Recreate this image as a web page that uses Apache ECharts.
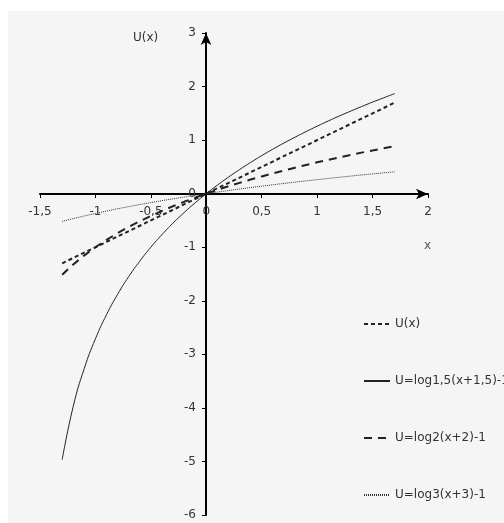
<!DOCTYPE html>
<html>
<head>
<meta charset="utf-8">
<script src="https://cdn.jsdelivr.net/npm/echarts@6/dist/echarts.min.js"></script>
<style>
  html, body { margin: 0; padding: 0; background: #ffffff; }
  #chart { width: 504px; height: 523px; }
</style>
</head>
<body>
<div id="chart"></div>
<script>
// Sample abscissas shared by all curves
const xs = [-1.3, -1.2, -1.1, -1.0, -0.9, -0.8, -0.7, -0.6, -0.5, -0.4, -0.3, -0.2, -0.1, 0.0,
            0.1, 0.2, 0.3, 0.4, 0.5, 0.6, 0.7, 0.8, 0.9, 1.0, 1.1, 1.2, 1.3, 1.4, 1.5, 1.6, 1.7];

// U(x) straight line
const uLineX = [-1.3, 1.7];
const uLineY = [-1.3, 1.7];

// U = log1,5(x+1,5) - 1
const uLog15 = [-4.969, -3.969, -3.260, -2.710, -2.260, -1.880, -1.550, -1.260, -1.000, -0.765,
                -0.550, -0.353, -0.170, 0.000, 0.159, 0.309, 0.450, 0.583, 0.710, 0.830,
                0.945, 1.054, 1.159, 1.260, 1.357, 1.450, 1.539, 1.626, 1.710, 1.790, 1.869];

// U = log2(x+2) - 1
const uLog2 = [-1.515, -1.322, -1.152, -1.000, -0.862, -0.737, -0.621, -0.515, -0.415, -0.322,
               -0.234, -0.152, -0.074, 0.000, 0.070, 0.138, 0.202, 0.263, 0.322, 0.379,
               0.433, 0.485, 0.536, 0.585, 0.632, 0.678, 0.722, 0.766, 0.807, 0.848, 0.888];

// U = log3(x+3) - 1
const uLog3 = [-0.517, -0.465, -0.416, -0.369, -0.325, -0.282, -0.242, -0.203, -0.166, -0.130,
               -0.096, -0.063, -0.031, 0.000, 0.030, 0.059, 0.087, 0.114, 0.140, 0.166,
               0.191, 0.215, 0.239, 0.262, 0.284, 0.306, 0.328, 0.349, 0.369, 0.389, 0.409];

const seriesNames = ['U(x)', 'U=log1,5(x+1,5)-1', 'U=log2(x+2)-1', 'U=log3(x+3)-1'];

const pairs = (xArr, yArr) => xArr.map((x, i) => [x, yArr[i]]);

const chart = echarts.init(document.getElementById('chart'), null, { renderer: 'canvas' });
const font = 'DejaVu Sans, Verdana, sans-serif';
const textColor = '#333333';

// Plot box
const gridLeft = 40, gridRight = 76, gridTop = 33, gridBottom = 8;
const xMin = -1.5, xMax = 2, yMin = -6, yMax = 3;
const plotW = 504 - gridLeft - gridRight;
const plotH = 523 - gridTop - gridBottom;
// Shift the axes so they cross at the origin (labels and ticks travel with them)
const xAxisOffset = -Math.round(plotH * (0 - yMin) / (yMax - yMin));
const yAxisOffset = -Math.round(plotW * (0 - xMin) / (xMax - xMin));

chart.setOption({
  animation: false,
  backgroundColor: '#ffffff',
  graphic: [
    { type: 'rect', z: -10, silent: true,
      shape: { x: 8, y: 11, width: 496, height: 512 },
      style: { fill: '#f5f5f5' } },
    { type: 'text', left: 133, top: 32,
      style: { text: 'U(x)', font: '12px ' + font, fill: textColor } },
    { type: 'text', left: 424, top: 240,
      style: { text: 'x', font: '12px ' + font, fill: '#4a5a4a' } }
  ],
  grid: { left: gridLeft, right: gridRight, top: gridTop, bottom: gridBottom, containLabel: false },
  legend: {
    orient: 'vertical',
    left: 358,
    top: 313,
    itemGap: 45,
    itemWidth: 26,
    itemHeight: 14,
    data: seriesNames,
    itemStyle: { opacity: 0 },
    textStyle: { fontFamily: font, fontSize: 12, color: textColor }
  },
  xAxis: {
    type: 'value', min: xMin, max: xMax, interval: 0.5,
    position: 'bottom', offset: xAxisOffset,
    axisLine: { onZero: false, symbol: ['none', 'arrow'], symbolSize: [8, 12],
                lineStyle: { color: '#000', width: 2 } },
    axisTick: { show: true, inside: false, length: 4, lineStyle: { color: '#000', width: 1 } },
    axisLabel: { fontFamily: font, fontSize: 12, color: textColor, margin: 12,
                 formatter: v => String(v).replace('.', ',') },
    splitLine: { show: false }
  },
  yAxis: {
    type: 'value', min: yMin, max: yMax, interval: 1,
    position: 'left', offset: yAxisOffset,
    axisLine: { onZero: false, symbol: ['none', 'arrow'], symbolSize: [8, 12],
                lineStyle: { color: '#000', width: 2 } },
    axisTick: { show: true, inside: false, length: 4, lineStyle: { color: '#000', width: 1 } },
    axisLabel: { fontFamily: font, fontSize: 12, color: textColor, margin: 10 },
    splitLine: { show: false }
  },
  series: [
    { name: seriesNames[0], type: 'line', symbol: 'none', data: pairs(uLineX, uLineY),
      itemStyle: { color: '#222' },
      lineStyle: { color: '#222', width: 2, type: [4, 3] }, z: 3 },
    { name: seriesNames[1], type: 'line', symbol: 'none', smooth: true, data: pairs(xs, uLog15),
      itemStyle: { color: '#222' },
      lineStyle: { color: '#222', width: 1, type: 'solid' }, z: 3 },
    { name: seriesNames[2], type: 'line', symbol: 'none', data: pairs(xs, uLog2),
      itemStyle: { color: '#222' },
      lineStyle: { color: '#222', width: 2, type: [8, 6] }, z: 3 },
    { name: seriesNames[3], type: 'line', symbol: 'none', data: pairs(xs, uLog3),
      itemStyle: { color: '#333' },
      lineStyle: { color: '#333', width: 1, type: [1, 1] }, z: 3 }
  ]
});
</script>
</body>
</html>
